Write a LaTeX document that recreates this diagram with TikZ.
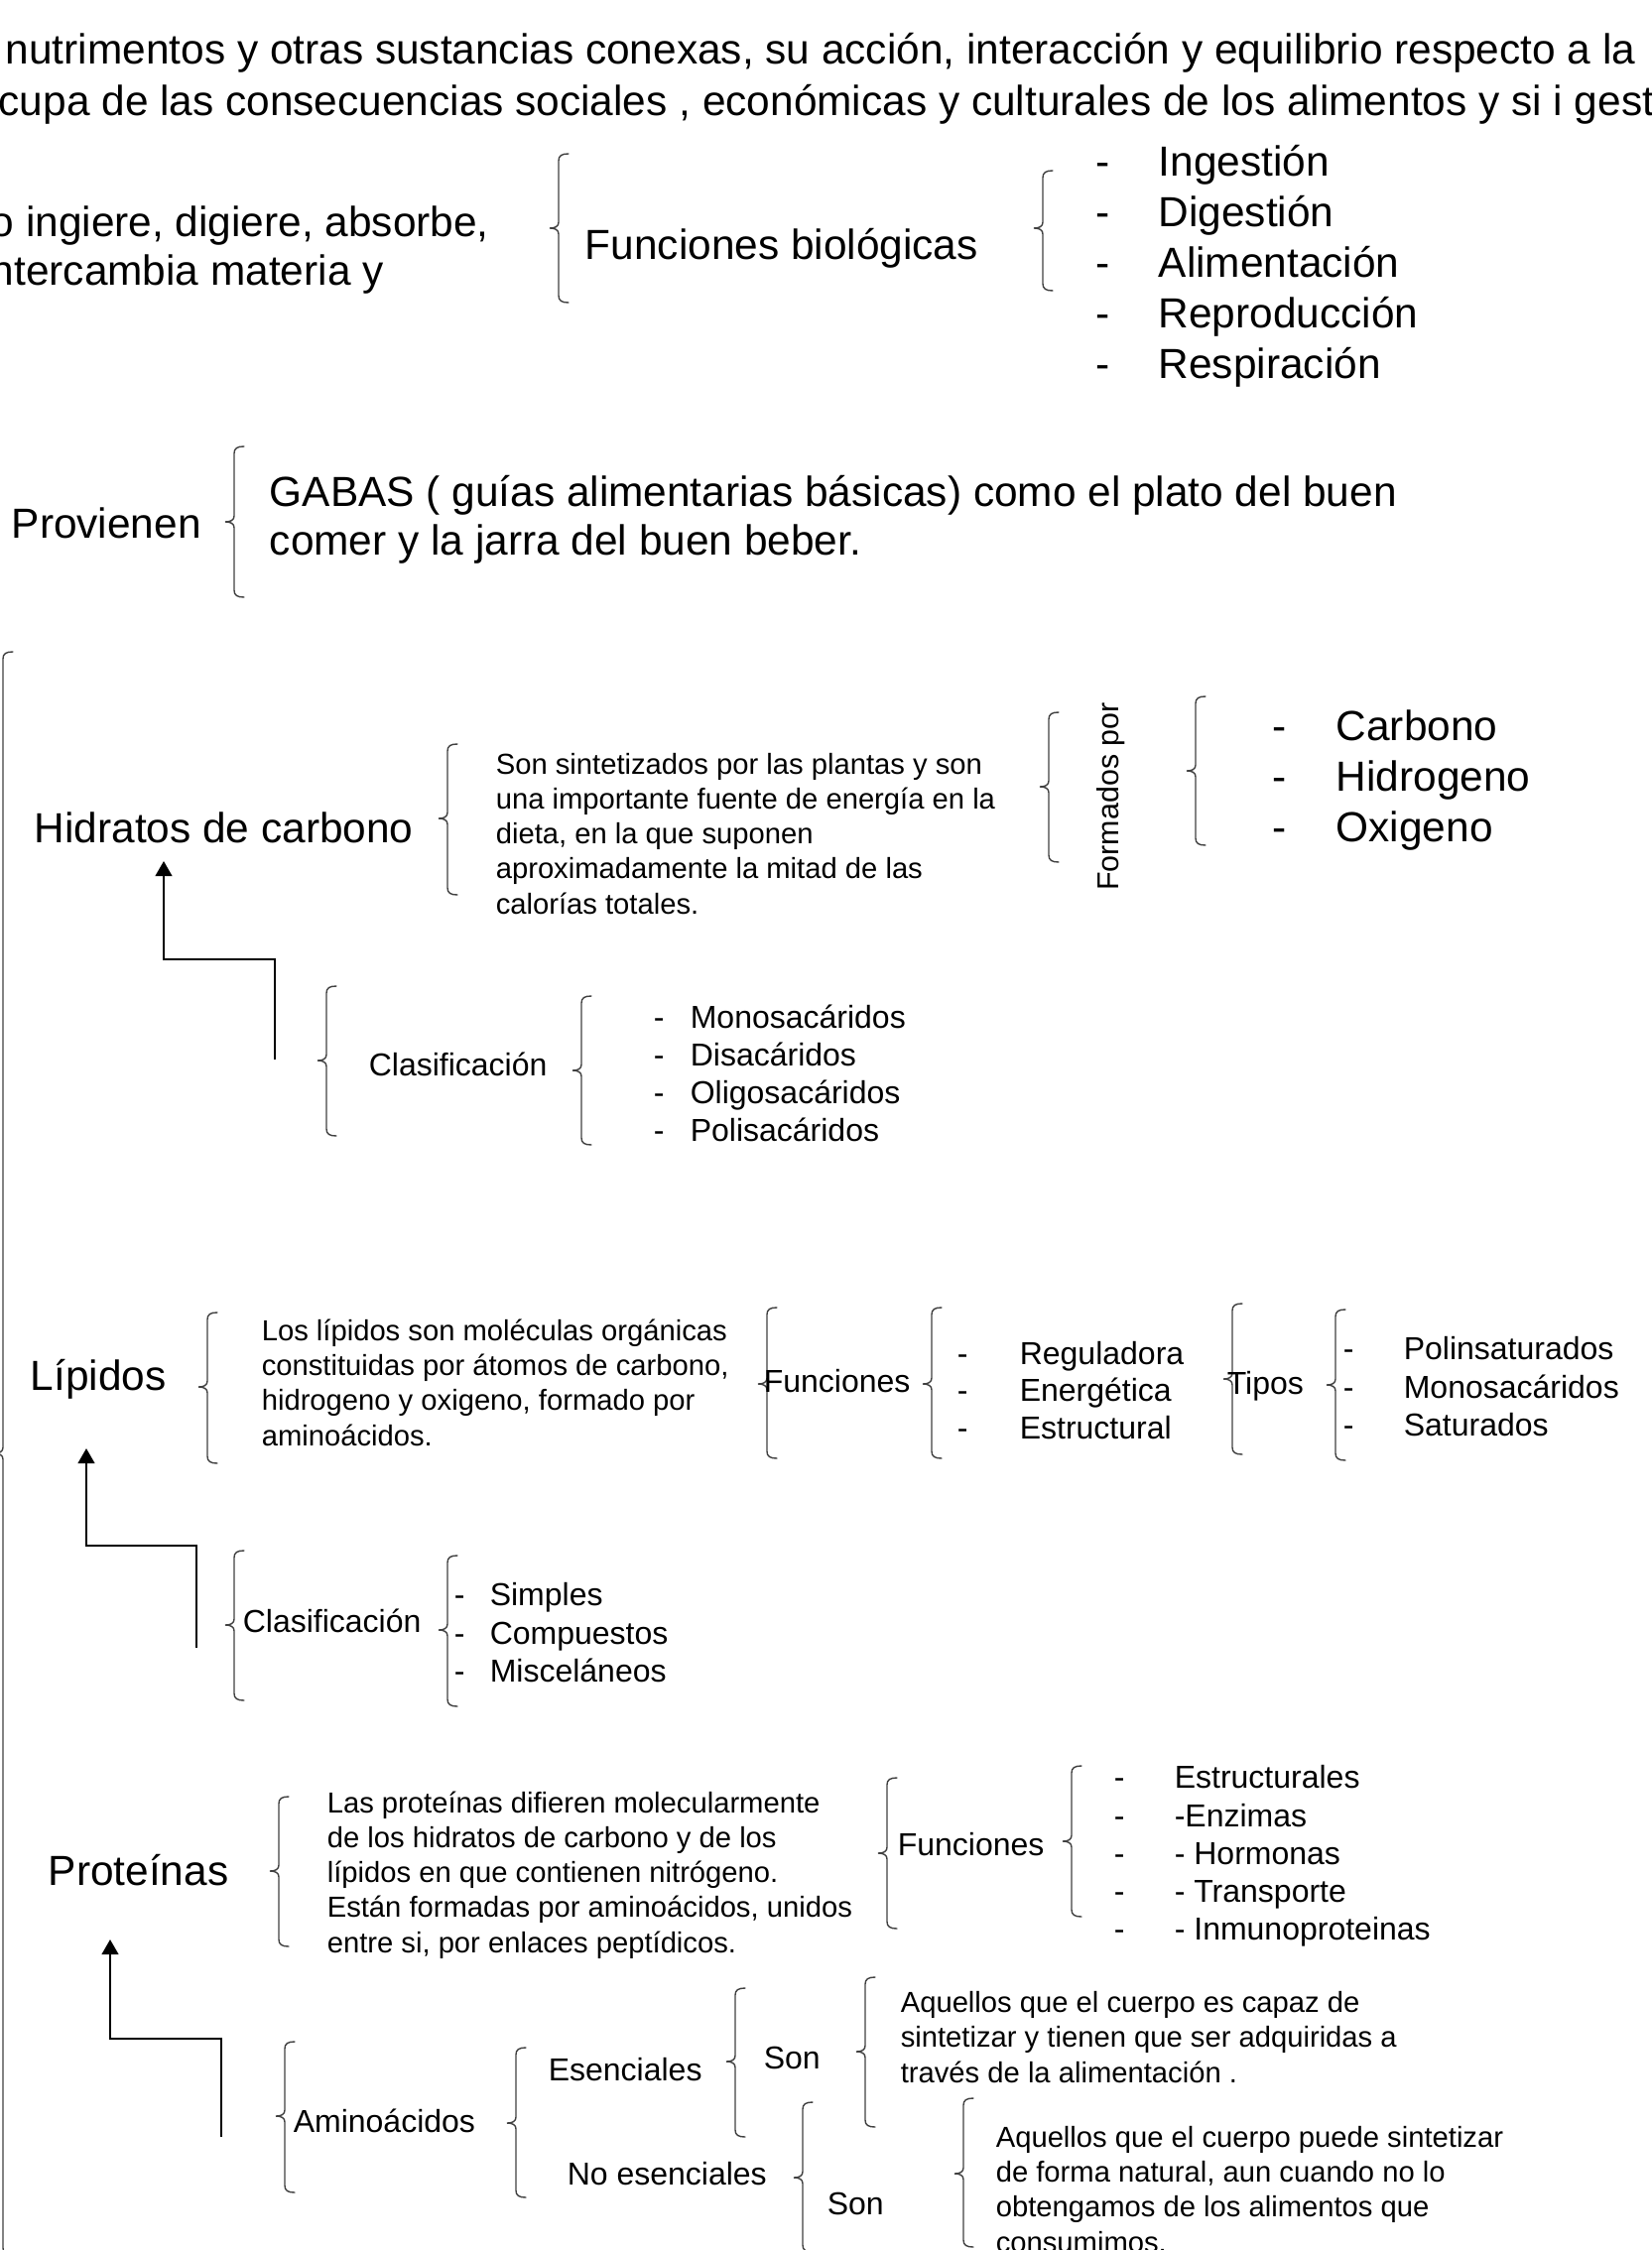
\documentclass[tikz,border=0pt]{standalone}
\usepackage{fontspec}
\setmainfont{Liberation Sans}
\usetikzlibrary{arrows.meta}

\tikzset{
  txtbig/.style={font=\fontsize{10.6}{12.25}\selectfont, inner sep=0pt, anchor=base west, align=left},
  txtmid/.style={font=\fontsize{8}{9.5}\selectfont, inner sep=0pt, anchor=base west, align=left},
  txtsmall/.style={font=\fontsize{7.3}{8.8}\selectfont, inner sep=0pt, anchor=base west, align=left},
  bracestroke/.style={draw=\nutBraceColor, line width=\nutBraceWidth, line cap=round},
  riser/.style={draw=black, line width=0.6pt, -{Triangle[length=3.8pt,width=4.2pt]}},
}

\begin{document}
\begin{tikzpicture}
% page laid out in pixels of the slide, y going down
% (multi-line texts sit on the baseline of their last line)
\def\pxsz{0.25pt}
\providecommand{\nutBraceColor}{black!75}
\providecommand{\nutBraceWidth}{0.35pt}
% left brace: x, top, bottom, tip
\def\nutbrace#1#2#3#4{%
  \draw[bracestroke] ({#1+10},#2) .. controls ({#1+3},#2) and (#1,{#2+2}) .. (#1,{#2+7})
    -- (#1,{#4-6}) .. controls (#1,{#4-2}) and ({#1-3},#4) .. ({#1-9},#4)
    .. controls ({#1-3},#4) and (#1,{#4+2}) .. (#1,{#4+6})
    -- (#1,{#3-7}) .. controls (#1,{#3-2}) and ({#1+3},#3) .. ({#1+10},#3);}
\begin{scope}[x=\pxsz, y=-\pxsz]
  \useasboundingbox (0,0) rectangle (1664,2268);
  \clip (0,0) rectangle (1664,2268);
  % Heading lines
  \node (intro1) [txtbig] at (5,65) {nutrimentos y otras sustancias conexas, su acción, interacción y equilibrio respecto a la};
  \node (intro2) [txtbig] at (-2,117) {cupa de las consecuencias sociales , económicas y culturales de los alimentos y si i gesti};
  % Biological functions
  \node (organism) [txtbig] at (-10,288) {o ingiere, digiere, absorbe,\\ntercambia materia y};
  \nutbrace{563}{155}{305}{230}
  \node (biofun) [txtbig] at (589,262) {Funciones biológicas};
  \nutbrace{1051}{172}{293}{230}
  \node (bio1) [txtbig] at (1104,178) {\makebox[15.75pt][l]{-}Ingestión};
  \node (bio2) [txtbig] at (1104,229) {\makebox[15.75pt][l]{-}Digestión};
  \node (bio3) [txtbig] at (1104,280) {\makebox[15.75pt][l]{-}Alimentación};
  \node (bio4) [txtbig] at (1104,331) {\makebox[15.75pt][l]{-}Reproducción};
  \node (bio5) [txtbig] at (1104,382) {\makebox[15.75pt][l]{-}Respiración};
  % Sources
  \node (prov) [txtbig] at (11,542) {Provienen};
  \nutbrace{236}{450}{602}{526}
  \node (gabas) [txtbig] at (271,559) {GABAS ( guías alimentarias básicas) como el plato del buen\\comer y la jarra del buen beber.};
  % Main brace over the three groups
  \nutbrace{3}{657}{2273}{1465}
  % Carbohydrates
  \node (hc) [txtbig] at (34,849) {Hidratos de carbono};
  \nutbrace{451}{750}{902}{825}
  \node (hctxt) [txtsmall] at (499,921) {Son sintetizados por las plantas y son\\una importante fuente de energía en la\\dieta, en la que suponen\\aproximadamente la mitad de las\\calorías totales.};
  \nutbrace{1057}{718}{869}{793}
  \node (hcform) [font=\fontsize{7.6}{9}\selectfont, inner sep=0pt, rotate=90] at (1120,803) {Formados por};
  \nutbrace{1205}{702}{852}{777}
  \node (el1) [txtbig] at (1282,746) {\makebox[16pt][l]{-}Carbono};
  \node (el2) [txtbig] at (1282,797) {\makebox[16pt][l]{-}Hidrogeno};
  \node (el3) [txtbig] at (1282,848) {\makebox[16pt][l]{-}Oxigeno};
  \coordinate (hcfoot) at (277,1068);
  \coordinate (hchead) at (165,868);
  \draw[riser] (hcfoot) |- (165,967) -- (hchead);
  \nutbrace{329}{994}{1145}{1069}
  \node (hcclas) [txtmid] at (371,1084) {Clasificación};
  \nutbrace{586}{1004}{1154}{1079}
  \node (sac1) [txtmid] at (658,1036) {\makebox[9.25pt][l]{-}Monosacáridos};
  \node (sac2) [txtmid] at (658,1074) {\makebox[9.25pt][l]{-}Disacáridos};
  \node (sac3) [txtmid] at (658,1112) {\makebox[9.25pt][l]{-}Oligosacáridos};
  \node (sac4) [txtmid] at (658,1150) {\makebox[9.25pt][l]{-}Polisacáridos};
  % Lipids
  \node (lip) [txtbig] at (30,1401) {Lípidos};
  \nutbrace{209}{1323}{1475}{1398}
  \node (liptxt) [txtsmall] at (263,1457) {Los lípidos son moléculas orgánicas\\constituidas por átomos de carbono,\\hidrogeno y oxigeno, formado por\\aminoácidos.};
  \nutbrace{773}{1318}{1470}{1395}
  \node (lipfun) [txtmid] at (769,1403) {Funciones};
  \nutbrace{939}{1318}{1470}{1395}
  \node (lf1) [txtmid] at (964,1375) {\makebox[15.75pt][l]{-}Reguladora};
  \node (lf2) [txtmid] at (964,1412) {\makebox[15.75pt][l]{-}Energética};
  \node (lf3) [txtmid] at (964,1450) {\makebox[15.75pt][l]{-}Estructural};
  \nutbrace{1242}{1314}{1466}{1390}
  \node (liptip) [txtmid] at (1236,1405) {Tipos};
  \nutbrace{1346}{1320}{1472}{1396}
  \node (lt1) [txtmid] at (1353,1370) {\makebox[15.25pt][l]{-}Polinsaturados};
  \node (lt2) [txtmid] at (1353,1409) {\makebox[15.25pt][l]{-}Monosacáridos};
  \node (lt3) [txtmid] at (1353,1447) {\makebox[15.25pt][l]{-}Saturados};
  \coordinate (lipfoot) at (198,1661);
  \coordinate (liphead) at (87,1460);
  \draw[riser] (lipfoot) |- (87,1558) -- (liphead);
  \nutbrace{236}{1563}{1714}{1638}
  \node (lipclas) [txtmid] at (244,1645) {Clasificación};
  \nutbrace{451}{1568}{1720}{1643}
  \node (lc1) [txtmid] at (457,1618) {\makebox[9pt][l]{-}Simples};
  \node (lc2) [txtmid] at (457,1657) {\makebox[9pt][l]{-}Compuestos};
  \node (lc3) [txtmid] at (457,1695) {\makebox[9pt][l]{-}Misceláneos};
  % Proteins
  \node (prot) [txtbig] at (48,1900) {Proteínas};
  \nutbrace{281}{1811}{1962}{1886}
  \node (prottxt) [txtsmall] at (329,1968) {Las proteínas difieren molecularmente\\de los hidratos de carbono y de los\\lípidos en que contienen nitrógeno.\\Están formadas por aminoácidos, unidos\\entre si, por enlaces peptídicos.};
  \nutbrace{894}{1792}{1944}{1868}
  \node (protfun) [txtmid] at (904,1870) {Funciones};
  \nutbrace{1080}{1780}{1932}{1856}
  \node (pf1) [txtmid] at (1122,1802) {\makebox[15.25pt][l]{-}Estructurales};
  \node (pf2) [txtmid] at (1122,1841) {\makebox[15.25pt][l]{-}-Enzimas};
  \node (pf3) [txtmid] at (1122,1879) {\makebox[15.25pt][l]{-}- Hormonas};
  \node (pf4) [txtmid] at (1122,1917) {\makebox[15.25pt][l]{-}- Transporte};
  \node (pf5) [txtmid] at (1122,1955) {\makebox[15.25pt][l]{-}- Inmunoproteinas};
  \coordinate (protfoot) at (223,2154);
  \coordinate (prothead) at (111,1955);
  \draw[riser] (protfoot) |- (111,2055) -- (prothead);
  \nutbrace{287}{2058}{2210}{2133}
  \node (amino) [txtmid] at (295,2149) {Aminoácidos};
  \nutbrace{520}{2064}{2215}{2140}
  \node (esen) [txtmid] at (552,2097) {Esenciales};
  \nutbrace{741}{2004}{2154}{2078}
  \node (eson) [txtmid] at (769,2085) {Son};
  \nutbrace{872}{1993}{2144}{2068}
  \node (esentxt) [txtsmall] at (907,2099) {Aquellos que el cuerpo es capaz de\\sintetizar y tienen que ser adquiridas a\\través de la alimentación .};
  \node (noesen) [txtmid] at (571,2202) {No esenciales};
  \nutbrace{809}{2119}{2270}{2195}
  \node (nson) [txtmid] at (833,2232) {Son};
  \nutbrace{971}{2115}{2265}{2191}
  \node (noesentxt) [txtsmall] at (1003,2270) {Aquellos que el cuerpo puede sintetizar\\de forma natural, aun cuando no lo\\obtengamos de los alimentos que\\consumimos.};
\end{scope}
\end{tikzpicture}
\end{document}
